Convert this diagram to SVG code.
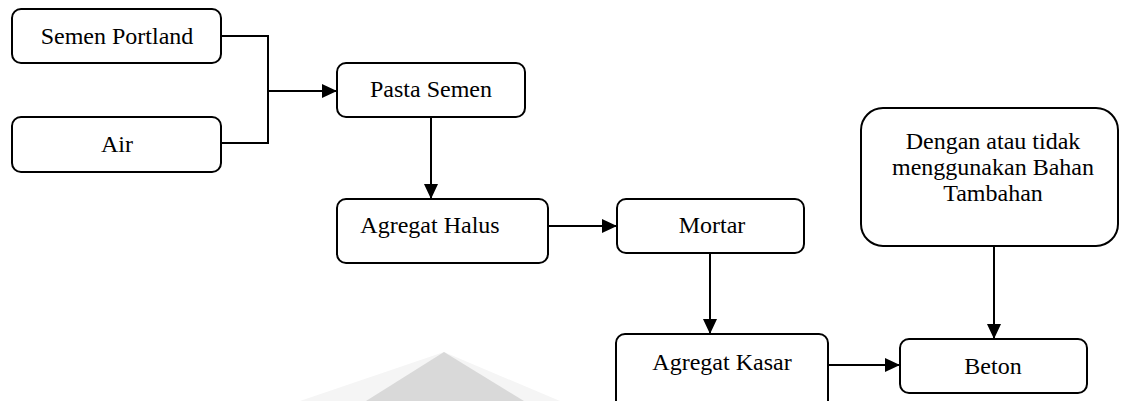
<svg xmlns="http://www.w3.org/2000/svg" width="1124" height="401" viewBox="0 0 1124 401">
<style>
.box{fill:#fff;stroke:#000;stroke-width:2}
.t{font-family:"Liberation Serif","Times New Roman",serif;font-size:24px;fill:#000;text-anchor:middle}
.c{fill:none;stroke:#000;stroke-width:2}
</style>
<defs>
<marker id="ah" markerUnits="userSpaceOnUse" markerWidth="15" markerHeight="14" refX="15" refY="7" orient="auto">
<path d="M0,0 L15,7 L0,14 z" fill="#000"/>
</marker>
</defs>
<rect width="1124" height="401" fill="#fff"/>
<polygon points="300,401 444,352 560,401" fill="#f5f5f5"/>
<polygon points="366,401 444,352 524,401" fill="#d9d9d9"/>
<g id="connectors">
<polyline class="c" points="221,36 268,36 268,143 221,143"/>
<line class="c" x1="268" y1="91" x2="337" y2="91" marker-end="url(#ah)"/>
<line class="c" x1="431" y1="117" x2="431" y2="199" marker-end="url(#ah)"/>
<line class="c" x1="548" y1="226" x2="617" y2="226" marker-end="url(#ah)"/>
<line class="c" x1="710" y1="253" x2="710" y2="334" marker-end="url(#ah)"/>
<line class="c" x1="828" y1="365" x2="900" y2="365" stroke="#222" marker-end="url(#ah)"/>
<line class="c" x1="994" y1="246" x2="994" y2="339" marker-end="url(#ah)"/>
</g>
<g id="semen-portland">
<rect class="box" x="12" y="9" width="209" height="54" rx="9"/>
<text class="t" x="117" y="44">Semen Portland</text>
</g>
<g id="air">
<rect class="box" x="12" y="117" width="209" height="55" rx="9"/>
<text class="t" x="117" y="152">Air</text>
</g>
<g id="pasta-semen">
<rect class="box" x="337" y="63" width="188" height="54" rx="9"/>
<text class="t" x="431" y="97">Pasta Semen</text>
</g>
<g id="agregat-halus">
<rect class="box" x="337" y="199" width="211" height="64" rx="9"/>
<text class="t" x="430" y="233">Agregat Halus</text>
</g>
<g id="mortar">
<rect class="box" x="617" y="199" width="187" height="54" rx="9"/>
<text class="t" x="712" y="233">Mortar</text>
</g>
<g id="agregat-kasar">
<rect class="box" x="616" y="334" width="212" height="80" rx="9" stroke="#222"/>
<text class="t" x="722" y="370" fill="#333">Agregat Kasar</text>
</g>
<g id="beton">
<rect class="box" x="900" y="339" width="187" height="54" rx="9"/>
<text class="t" x="993" y="374">Beton</text>
</g>
<g id="bahan-tambahan">
<rect class="box" x="861" y="108" width="257" height="138" rx="22"/>
<text class="t" x="993" y="149">Dengan atau tidak</text>
<text class="t" x="993" y="175">menggunakan Bahan</text>
<text class="t" x="993" y="201">Tambahan</text>
</g>
</svg>
